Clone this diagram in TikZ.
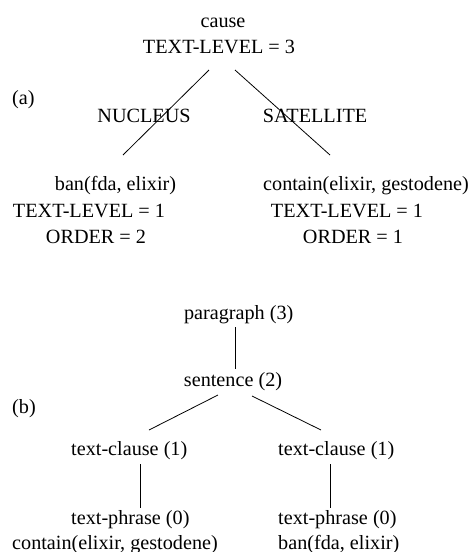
\documentclass[tikz,border=0pt]{standalone}
\usepackage{fontspec}
\setmainfont{Liberation Serif}
\begin{document}
\begin{tikzpicture}[x=1pt,y=-1pt,
  lbl/.style={inner sep=0pt,anchor=base,font=\fontsize{20.2}{24}\selectfont},
  lblw/.style={lbl,anchor=base west},
  edge/.style={line width=0.8pt,black}]
\useasboundingbox (0,0) rectangle (472,552);
% (a)
\node[lbl] (cause) at (223,27) {cause};
\node[lbl] (tl3) at (219,53) {TEXT-LEVEL = 3};
\node[lblw] (la) at (12,104) {(a)};
\node[lbl] (nuc) at (144,122) {NUCLEUS};
\node[lbl] (sat) at (315,122) {SATELLITE};
\node[lbl] (ban1) at (115.5,190) {ban(fda, elixir)};
\node[lbl] (tl1a) at (89,217) {TEXT-LEVEL = 1};
\node[lbl] (ord2) at (96,243) {ORDER = 2};
\node[lbl] (con1) at (366,190) {contain(elixir, gestodene)};
\node[lbl] (tl1b) at (347,217) {TEXT-LEVEL = 1};
\node[lbl] (ord1) at (353,243) {ORDER = 1};
\coordinate (aL1) at (209,70);
\coordinate (aL2) at (123,155);
\coordinate (aR1) at (235,70);
\coordinate (aR2) at (330,155);
\draw[edge] (aL1) -- (aL2);
\draw[edge] (aR1) -- (aR2);
% (b)
\node[lbl] (par) at (238.7,319) {paragraph (3)};
\node[lbl] (sen) at (233,386) {sentence (2)};
\node[lblw] (lb) at (12,413) {(b)};
\node[lblw] (tcl) at (71,455) {text-clause (1)};
\node[lblw] (tcr) at (278,455) {text-clause (1)};
\node[lblw] (tpl) at (71,524) {text-phrase (0)};
\node[lblw] (tpr) at (278,524) {text-phrase (0)};
\node[lblw] (con2) at (12,549) {contain(elixir, gestodene)};
\node[lblw] (ban2) at (278,549) {ban(fda, elixir)};
\coordinate (bP1) at (235,327);
\coordinate (bP2) at (235,369);
\coordinate (bL1) at (218,395);
\coordinate (bL2) at (149,430);
\coordinate (bR1) at (252,396);
\coordinate (bR2) at (321,430);
\coordinate (bVL1) at (140,464);
\coordinate (bVL2) at (140,508);
\coordinate (bVR1) at (330,464);
\coordinate (bVR2) at (330,508);
\draw[edge] (bP1) -- (bP2);
\draw[edge] (bL1) -- (bL2);
\draw[edge] (bR1) -- (bR2);
\draw[edge] (bVL1) -- (bVL2);
\draw[edge] (bVR1) -- (bVR2);
\end{tikzpicture}
\end{document}
